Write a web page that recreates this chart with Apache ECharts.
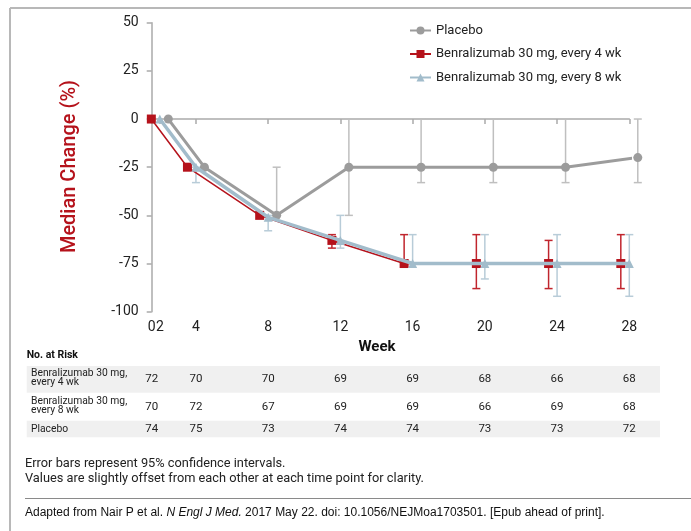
<!DOCTYPE html>
<html><head><meta charset="utf-8">
<script src="https://cdn.jsdelivr.net/npm/echarts@6/dist/echarts.min.js"></script>
<style>html,body{margin:0;padding:0;background:#fff}#c{width:691px;height:531px}</style>
</head><body><div id="c"></div>
<script>
// ---- data ----
const weekX = [2, 4, 8, 12, 16, 20, 24, 28];
const xTickValues = [1.55, 2, 4, 8, 12, 16, 20, 24, 28];
const xTickLabels = ['0', '2', '4', '8', '12', '16', '20', '24', '28'];
const seriesNames = ['Placebo', 'Benralizumab 30 mg, every 4 wk', 'Benralizumab 30 mg, every 8 wk'];
const placebo = [0, -25, -50, -25, -25, -25, -25, -20];
const q4w = [0, -25, -50, -63, -75, -75, -75, -75];
const q8w = [0, -25, -51, -63, -75, -75, -75, -75];
const placeboLow = [null, null, -50, -50, -33, -33, -33, -33];
const placeboHigh = [null, null, -25, 0, 0, 0, 0, 0];
const q4wLow = [null, null, null, -67, -75, -88, -88, -88];
const q4wHigh = [null, null, null, -60, -60, -60, -63, -60];
const q8wLow = [null, -33, -58, -67, -75, -83, -92, -92];
const q8wHigh = [null, -25, -50, -50, -60, -60, -60, -60];
const riskRowLabels = [['Benralizumab 30 mg,', 'every 4 wk'], ['Benralizumab 30 mg,', 'every 8 wk'], ['Placebo']];
const riskQ4w = [72, 70, 70, 69, 69, 68, 66, 68];
const riskQ8w = [70, 72, 67, 69, 69, 66, 69, 68];
const riskPlacebo = [74, 75, 73, 74, 74, 73, 73, 72];
const footnotes = ['Error bars represent 95% confidence intervals.', 'Values are slightly offset from each other at each time point for clarity.'];

// ---- styles ----
const OFF = { placebo: 0.47, q4w: -0.47, q8w: 0 };
const C = { placebo: '#9c9c9c', q4w: '#b5121b', q8w: '#a2bccb', placeboErr: '#bfbfbf', q4wErr: '#c0252d', q8wErr: '#b8ccd8' };
const FONT = 'Roboto';

function pts(vals, off) { return weekX.map((w, i) => [w + off, vals[i]]); }
function errPts(lo, hi, off) {
  return weekX.map((w, i) => lo[i] == null ? null : [w + off, lo[i], hi[i]]).filter(Boolean);
}
function errRender(color, width) {
  return function (params, api) {
    const x = api.value(0), lo = api.value(1), hi = api.value(2);
    const p1 = api.coord([x, hi]), p2 = api.coord([x, lo]);
    const hw = 4;
    const style = { stroke: color, lineWidth: width };
    return { type: 'group', children: [
      { type: 'line', shape: { x1: p1[0], y1: p1[1], x2: p2[0], y2: p2[1] }, style },
      { type: 'line', shape: { x1: p1[0] - hw, y1: p1[1], x2: p1[0] + hw, y2: p1[1] }, style },
      { type: 'line', shape: { x1: p2[0] - hw, y1: p2[1], x2: p2[0] + hw, y2: p2[1] }, style }
    ]};
  };
}
function errSeries(name, lo, hi, off, color) {
  return { type: 'custom', name, silent: true, z: 1, clip: false, renderItem: errRender(color, 1.5),
    data: errPts(lo, hi, off), encode: { x: 0, y: [1, 2] } };
}

const chart = echarts.init(document.getElementById('c'), null, { renderer: 'canvas' });
const option = {
  animation: false,
  backgroundColor: '#fff',
  grid: { left: 151.7, right: 61.7, top: 22.7, bottom: 219.3 },
  xAxis: {
    type: 'value', min: xTickValues[0], max: 28,
    axisLine: { lineStyle: { color: '#aaaaaa', width: 1.5 } },
    axisTick: { customValues: xTickValues, length: 5, lineStyle: { color: '#aaaaaa', width: 1.5 } },
    axisLabel: { customValues: xTickValues, margin: 9, color: '#222', fontFamily: FONT, fontSize: 14,
      formatter: v => xTickLabels[xTickValues.indexOf(v)] },
    splitLine: { show: false }
  },
  yAxis: {
    type: 'value', min: -100, max: 50, interval: 25,
    axisLine: { show: true, lineStyle: { color: '#aaaaaa', width: 1.5 } },
    axisTick: { show: true, length: 5, lineStyle: { color: '#aaaaaa', width: 1.5 } },
    axisLabel: { margin: 13, color: '#222', fontFamily: FONT, fontSize: 14 },
    splitLine: { show: false }
  },
  legend: {
    orient: 'vertical', left: 404, top: 19, itemWidth: 21, itemHeight: 10, itemGap: 10.5,
    data: seriesNames,
    textStyle: { color: '#222', fontFamily: FONT, fontSize: 13 }
  },
  series: [
    errSeries('e-placebo', placeboLow, placeboHigh, OFF.placebo, C.placeboErr),
    errSeries('e-q4w', q4wLow, q4wHigh, OFF.q4w, C.q4wErr),
    errSeries('e-q8w', q8wLow, q8wHigh, OFF.q8w, C.q8wErr),
    { type: 'line', name: seriesNames[0], data: pts(placebo, OFF.placebo), z: 3, clip: false,
      symbol: 'circle', symbolSize: 9, lineStyle: { color: C.placebo, width: 3 }, itemStyle: { color: C.placebo } },
    { type: 'line', name: seriesNames[1], data: pts(q4w, OFF.q4w), z: 4, clip: false,
      symbol: 'rect', symbolSize: 9, lineStyle: { color: C.q4w, width: 1.5 }, itemStyle: { color: C.q4w } },
    { type: 'line', name: seriesNames[2], data: pts(q8w, OFF.q8w), z: 5, clip: false,
      symbol: 'triangle', symbolSize: 9, lineStyle: { color: C.q8w, width: 3.5 }, itemStyle: { color: C.q8w } }
  ]
};
chart.setOption(option);

// ---- decorations / table ----
const colValues = xTickValues.filter((v, i) => xTickLabels[i] !== '2');
const colPx = colValues.map(v => chart.convertToPixel({ xAxisIndex: 0 }, v));
const g = [];
g.push({ type: 'line', shape: { x1: 10, y1: 8, x2: 691, y2: 8 }, style: { stroke: '#b8b8b8', lineWidth: 2 } });
g.push({ type: 'line', shape: { x1: 10, y1: 8, x2: 10, y2: 531 }, style: { stroke: '#b8b8b8', lineWidth: 2 } });
g.push({ type: 'text', x: 70, y: 166.5, rotation: Math.PI / 2,
  style: { text: 'Median Change (%)', fill: '#b5121b', font: '500 20px Roboto', align: 'center', verticalAlign: 'middle' } });
g.push({ type: 'text', x: 377, y: 347,
  style: { text: 'Week', fill: '#111', font: 'bold 15px Roboto', align: 'center', verticalAlign: 'middle' } });
g.push({ type: 'text', x: 26.7, y: 355.7,
  style: { text: 'No. at Risk', fill: '#111', font: 'bold 10.5px Roboto', align: 'left', verticalAlign: 'middle' } });
g.push({ type: 'rect', shape: { x: 26.7, y: 366, width: 633.3, height: 26.7 }, style: { fill: '#f0f0f0' }, z: -1 });
g.push({ type: 'rect', shape: { x: 26.7, y: 420.7, width: 633.3, height: 16.6 }, style: { fill: '#f0f0f0' }, z: -1 });
const rowLabelY = [[373.3, 382.7], [401.3, 410.7], [429.3]];
const rowNumY = [379, 406.7, 429.3];
const rowVals = [riskQ4w, riskQ8w, riskPlacebo];
riskRowLabels.forEach((lines, r) => {
  lines.forEach((t, k) => g.push({ type: 'text', x: 31, y: rowLabelY[r][k],
    style: { text: t, fill: '#222', font: '10.3px Roboto', align: 'left', verticalAlign: 'middle' } }));
  rowVals[r].forEach((v, c) => g.push({ type: 'text', x: colPx[c], y: rowNumY[r],
    style: { text: String(v), fill: '#222', font: '11.5px Roboto', align: 'center', verticalAlign: 'middle' } }));
});
footnotes.forEach((t, i) => g.push({ type: 'text', x: 25, y: 463.5 + i * 15.5,
  style: { text: t, fill: '#222', font: '12.8px Roboto', align: 'left', verticalAlign: 'middle' } }));
g.push({ type: 'line', shape: { x1: 25, y1: 498.5, x2: 691, y2: 498.5 }, style: { stroke: '#8a8a8a', lineWidth: 1 } });
g.push({ type: 'text', x: 25, y: 513,
  style: { text: '{a|Adapted from Nair P et al. }{i|N Engl J Med.}{a| 2017 May 22. doi: 10.1056/NEJMoa1703501. [Epub ahead of print].}',
    align: 'left', verticalAlign: 'middle',
    rich: { a: { fill: '#111', fontFamily: "'Liberation Sans', Arial", fontSize: 12 },
            i: { fill: '#111', fontFamily: "'Liberation Sans', Arial", fontSize: 12, fontStyle: 'italic' } } } });
chart.setOption({ graphic: { elements: g } });
</script>
</body></html>
